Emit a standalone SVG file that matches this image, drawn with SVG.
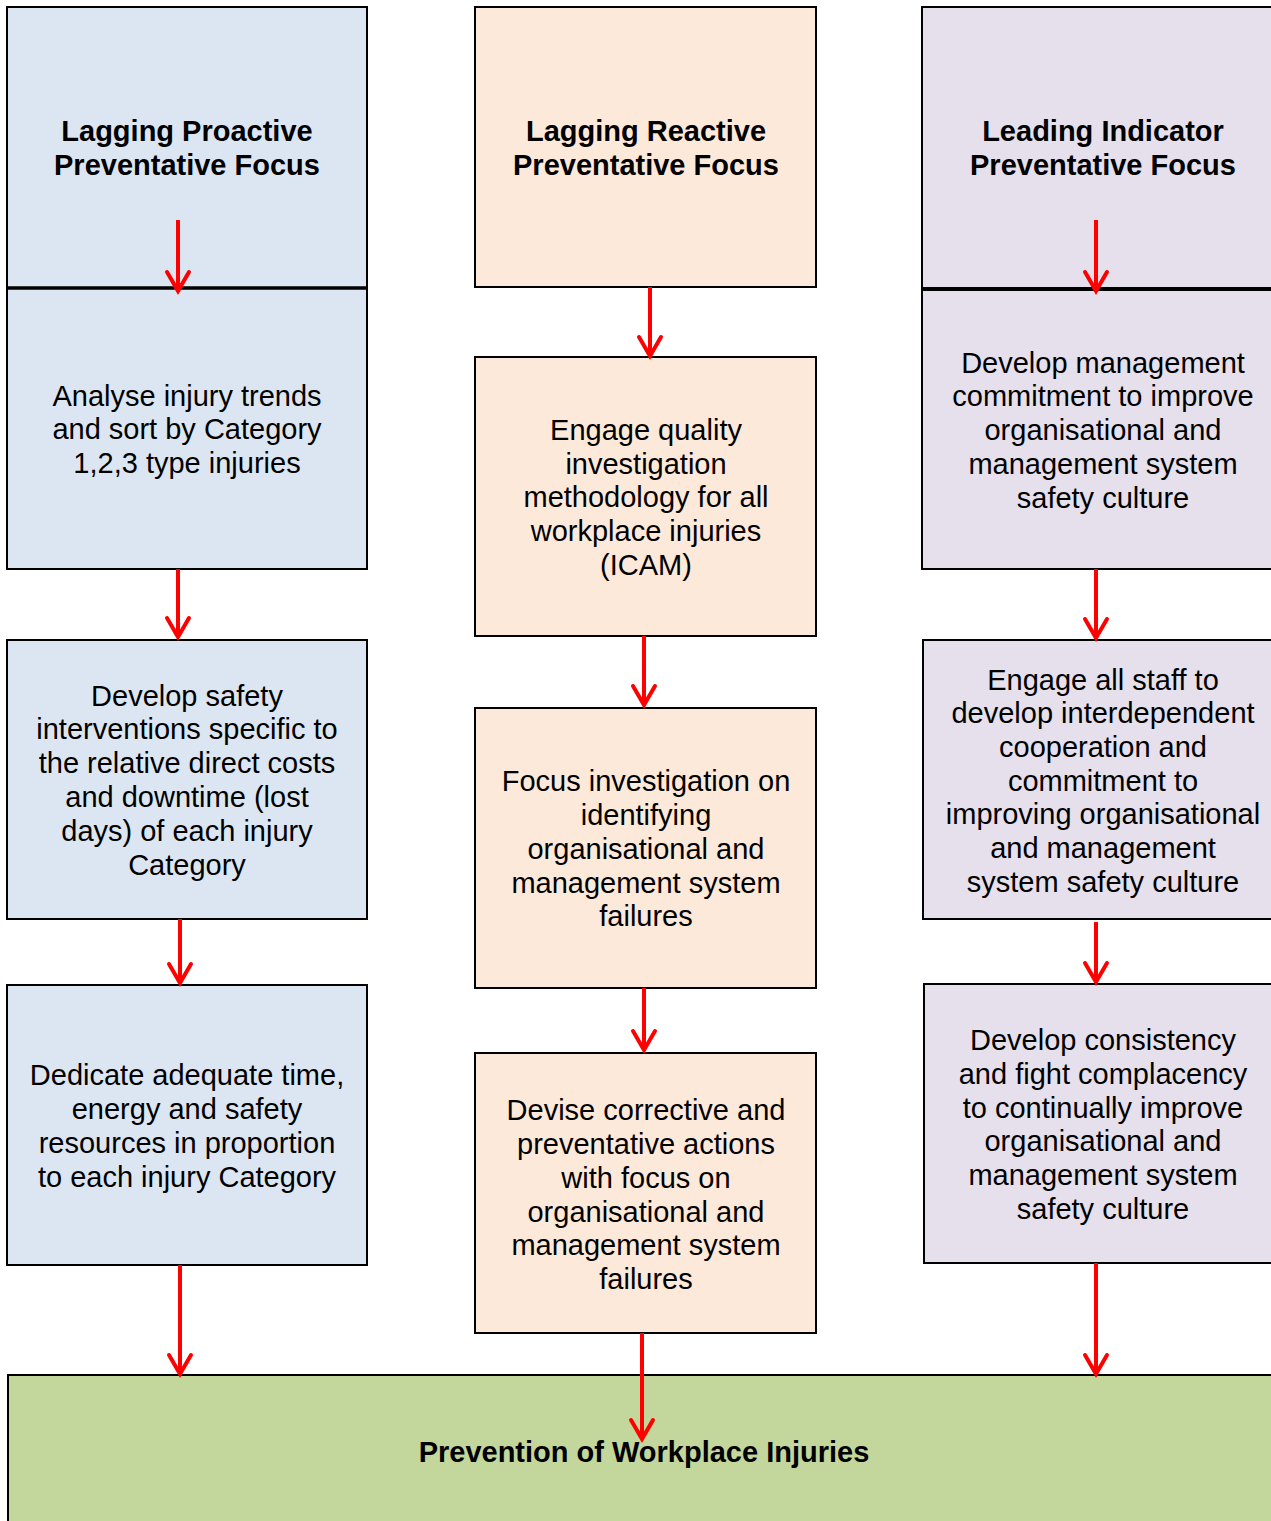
<svg xmlns="http://www.w3.org/2000/svg" width="1271" height="1521" viewBox="0 0 1271 1521">
<style>
.box{stroke:#000;stroke-width:2}
.blue{fill:#DCE6F2}.peach{fill:#FDE9D9}.lav{fill:#E5E0EC}.green{fill:#C3D69B}
text{font-family:"Liberation Sans",Arial,sans-serif;font-size:29px;fill:#000;text-anchor:middle}
.h{font-weight:bold}
.c line{stroke:#FF0000;stroke-width:4}
.c path{fill:none;stroke:#FF0000;stroke-width:4;stroke-linecap:round;stroke-linejoin:miter}
</style>
<rect width="1271" height="1521" fill="#fff"/>
<g id="n-green"><rect class="box green" x="8" y="1375" width="1280" height="160"/>
<text class="h" x="644" y="1462">Prevention of Workplace Injuries</text></g>

<g id="n-l1"><rect class="box blue" x="7" y="7" width="360" height="281"/>
<text class="h" x="187" y="141">Lagging Proactive</text><text class="h" x="187" y="175">Preventative Focus</text></g>
<g id="n-l2"><rect class="box blue" x="7" y="288" width="360" height="281"/>
<text x="187" y="406">Analyse injury trends</text><text x="187" y="439">and sort by Category</text><text x="187" y="473">1,2,3 type injuries</text></g>
<line x1="7" y1="288" x2="367" y2="288" stroke="#000" stroke-width="3.5"/>
<g id="n-l3"><rect class="box blue" x="7" y="640" width="360" height="279"/>
<text x="187" y="706">Develop safety</text><text x="187" y="739">interventions specific to</text><text x="187" y="773">the relative direct costs</text><text x="187" y="807">and downtime (lost</text><text x="187" y="841">days) of each injury</text><text x="187" y="875">Category</text></g>
<g id="n-l4"><rect class="box blue" x="7" y="985" width="360" height="280"/>
<text x="187" y="1085">Dedicate adequate time,</text><text x="187" y="1119">energy and safety</text><text x="187" y="1153">resources in proportion</text><text x="187" y="1187">to each injury Category</text></g>

<g id="n-m1"><rect class="box peach" x="475" y="7" width="341" height="280"/>
<text class="h" x="646" y="141">Lagging Reactive</text><text class="h" x="646" y="175">Preventative Focus</text></g>
<g id="n-m2"><rect class="box peach" x="475" y="357" width="341" height="279"/>
<text x="646" y="440">Engage quality</text><text x="646" y="474">investigation</text><text x="646" y="507">methodology for all</text><text x="646" y="541">workplace injuries</text><text x="646" y="575">(ICAM)</text></g>
<g id="n-m3"><rect class="box peach" x="475" y="708" width="341" height="280"/>
<text x="646" y="791">Focus investigation on</text><text x="646" y="825">identifying</text><text x="646" y="859">organisational and</text><text x="646" y="893">management system</text><text x="646" y="926">failures</text></g>
<g id="n-m4"><rect class="box peach" x="475" y="1053" width="341" height="280"/>
<text x="646" y="1120">Devise corrective and</text><text x="646" y="1154">preventative actions</text><text x="646" y="1188">with focus on</text><text x="646" y="1222">organisational and</text><text x="646" y="1255">management system</text><text x="646" y="1289">failures</text></g>

<g id="n-r1"><rect class="box lav" x="922" y="7" width="370" height="281"/>
<text class="h" x="1103" y="141">Leading Indicator</text><text class="h" x="1103" y="175">Preventative Focus</text></g>
<g id="n-r2"><rect class="box lav" x="922" y="290" width="370" height="279"/>
<text x="1103" y="373">Develop management</text><text x="1103" y="406">commitment to improve</text><text x="1103" y="440">organisational and</text><text x="1103" y="474">management system</text><text x="1103" y="508">safety culture</text></g>
<g id="n-r3"><rect class="box lav" x="923" y="640" width="370" height="279"/>
<text x="1103" y="690">Engage all staff to</text><text x="1103" y="723">develop interdependent</text><text x="1103" y="757">cooperation and</text><text x="1103" y="791">commitment to</text><text x="1103" y="824">improving organisational</text><text x="1103" y="858">and management</text><text x="1103" y="892">system safety culture</text></g>
<g id="n-r4"><rect class="box lav" x="924" y="984" width="370" height="279"/>
<text x="1103" y="1050">Develop consistency</text><text x="1103" y="1084">and fight complacency</text><text x="1103" y="1118">to continually improve</text><text x="1103" y="1151">organisational and</text><text x="1103" y="1185">management system</text><text x="1103" y="1219">safety culture</text></g>

<g id="connectors" class="c">
<line x1="178" y1="220" x2="178" y2="290"/><path d="M167 272 L178 291 L189 272"/>
<line x1="178" y1="569" x2="178" y2="636"/><path d="M167 618 L178 637 L189 618"/>
<line x1="180" y1="919" x2="180" y2="982"/><path d="M169 964 L180 983 L191 964"/>
<line x1="180" y1="1265" x2="180" y2="1373"/><path d="M169 1355 L180 1374 L191 1355"/>
<line x1="650" y1="287" x2="650" y2="355"/><path d="M639 337 L650 356 L661 337"/>
<line x1="644" y1="636" x2="644" y2="704"/><path d="M633 686 L644 705 L655 686"/>
<line x1="644" y1="988" x2="644" y2="1049"/><path d="M633 1031 L644 1050 L655 1031"/>
<line x1="642" y1="1333" x2="642" y2="1438"/><path d="M631 1420 L642 1439 L653 1420"/>
<line x1="1096" y1="220" x2="1096" y2="290"/><path d="M1085 272 L1096 291 L1107 272"/>
<line x1="1096" y1="569" x2="1096" y2="637"/><path d="M1085 619 L1096 638 L1107 619"/>
<line x1="1096" y1="922" x2="1096" y2="981"/><path d="M1085 963 L1096 982 L1107 963"/>
<line x1="1096" y1="1263" x2="1096" y2="1373"/><path d="M1085 1355 L1096 1374 L1107 1355"/>
</g>
</svg>
